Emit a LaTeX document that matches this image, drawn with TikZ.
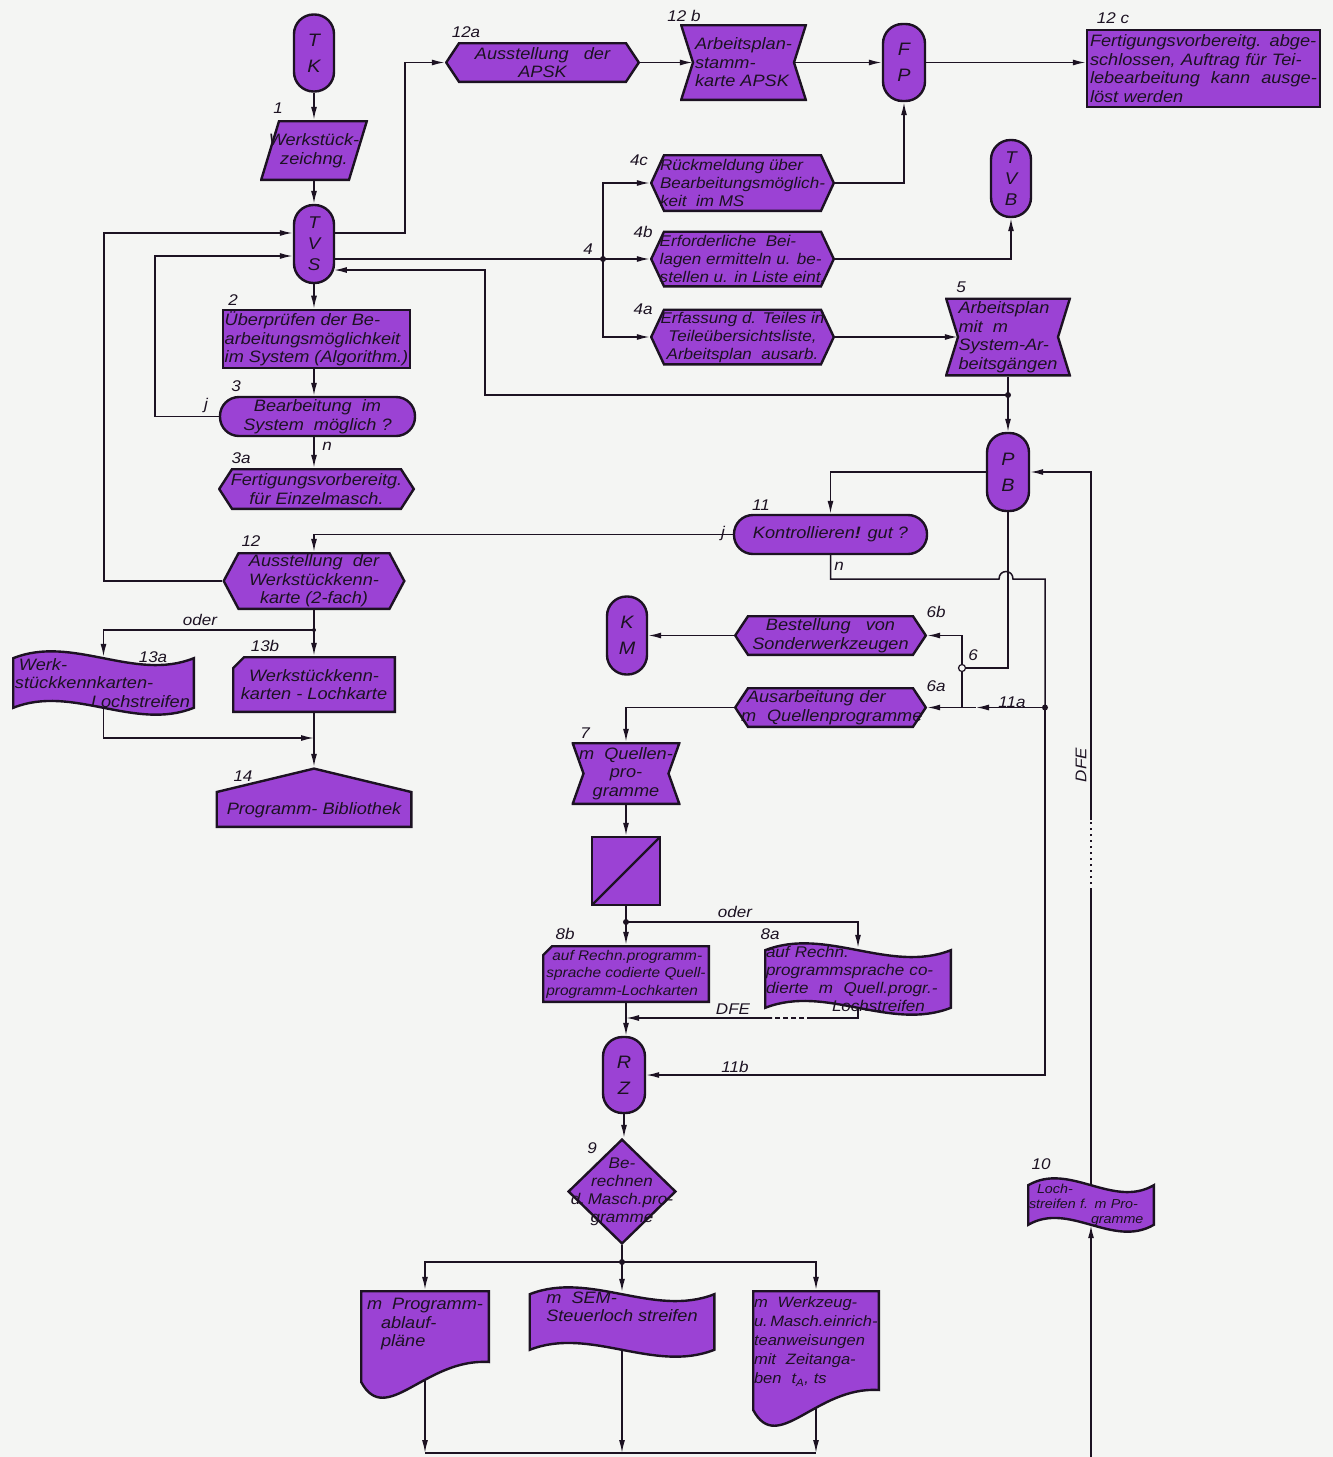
\documentclass[tikz,border=0pt]{standalone}
\usepackage{fontspec}
\setmainfont{Liberation Sans}[FakeStretch=1.1]
\usetikzlibrary{arrows.meta,calc}
\definecolor{purp}{RGB}{155,66,212}
\definecolor{ink}{RGB}{28,18,34}
\definecolor{paper}{RGB}{244,245,243}
\newcommand\ppbb{path picture bounding box}
\tikzset{
  fnt/.style={font=\fontsize{16.5}{18.5}\selectfont\itshape},
  fsm/.style={font=\fontsize{15.5}{18}\selectfont\itshape},
  lab/.style={font=\fontsize{15.5}{17}\selectfont\itshape, inner sep=0pt, text=ink},
  conn/.style={draw=ink, line width=1.5pt},
  arr/.style={conn, -{Latex[length=13pt,width=6pt]}},
  box/.style={fnt, rectangle, draw=ink, fill=purp, line width=2.4pt, inner sep=2pt, align=center, text=ink},
  term/.style={box, rounded corners=19.5pt, font=\fontsize{18}{26}\selectfont\itshape},
  term3/.style={term, font=\fontsize{17}{21}\selectfont\itshape},
  hterm/.style={box, rounded corners=19pt},
  shp/.style={fnt, rectangle, inner sep=2pt, align=center, text=ink},
  wh/.style 2 args={minimum width=#1pt, minimum height=#2pt},
  outl/.style={fill=purp, draw=ink, line width=2.4pt, line join=miter},
  hexa/.style={shp, path picture={\path[outl] ([shift={(1.2,0)}]\ppbb.west) -- ([shift={(#1,1.2)}]\ppbb.north west) -- ([shift={(-#1,1.2)}]\ppbb.north east) -- ([shift={(-1.2,0)}]\ppbb.east) -- ([shift={(-#1,-1.2)}]\ppbb.south east) -- ([shift={(#1,-1.2)}]\ppbb.south west) -- cycle;}},
  hexa/.default=14,
  hour/.style={shp, path picture={\path[outl] ([shift={(1.2,1.2)}]\ppbb.north west) -- ([shift={(-1.2,1.2)}]\ppbb.north east) -- ([shift={(-#1,0)}]\ppbb.east) -- ([shift={(-1.2,-1.2)}]\ppbb.south east) -- ([shift={(1.2,-1.2)}]\ppbb.south west) -- ([shift={(#1,0)}]\ppbb.west) -- cycle;}},
  hour/.default=13,
  card/.style={shp, path picture={\path[outl] ([shift={(#1,1.2)}]\ppbb.north west) -- ([shift={(-1.2,1.2)}]\ppbb.north east) -- ([shift={(-1.2,-1.2)}]\ppbb.south east) -- ([shift={(1.2,-1.2)}]\ppbb.south west) -- ([shift={(1.2,#1)}]\ppbb.north west) -- cycle;}},
  card/.default=12,
  para/.style={shp, path picture={\path[outl] ([shift={(19,1.2)}]\ppbb.north west) -- ([shift={(-1.2,1.2)}]\ppbb.north east) -- ([shift={(-19,-1.2)}]\ppbb.south east) -- ([shift={(1.2,-1.2)}]\ppbb.south west) -- cycle;}},
  house/.style={shp, path picture={\path[outl] ([shift={(0,1.6)}]\ppbb.north) -- ([shift={(-1.2,25)}]\ppbb.north east) -- ([shift={(-1.2,-1.2)}]\ppbb.south east) -- ([shift={(1.2,-1.2)}]\ppbb.south west) -- ([shift={(1.2,25)}]\ppbb.north west) -- cycle;}},
  diam/.style={shp, path picture={\path[outl] ([shift={(0,1.6)}]\ppbb.north) -- ([shift={(-1.6,0)}]\ppbb.east) -- ([shift={(0,-1.6)}]\ppbb.south) -- ([shift={(1.6,0)}]\ppbb.west) -- cycle;}},
  tape/.style={shp, path picture={\path[outl] ([shift={(1.2,8.2)}]\ppbb.north west) .. controls ($(\ppbb.north west)!0.33!(\ppbb.north east)+(0,-15.6)$) and ($(\ppbb.north west)!0.67!(\ppbb.north east)+(0,32)$) .. ([shift={(-1.2,8.2)}]\ppbb.north east) -- ([shift={(-1.2,-8.2)}]\ppbb.south east) .. controls ($(\ppbb.south west)!0.67!(\ppbb.south east)+(0,15.6)$) and ($(\ppbb.south west)!0.33!(\ppbb.south east)+(0,-32)$) .. ([shift={(1.2,-8.2)}]\ppbb.south west) -- cycle;}},
  doc/.style={shp, path picture={\path[outl] ([shift={(1.2,1.2)}]\ppbb.north west) -- ([shift={(-1.2,1.2)}]\ppbb.north east) -- ([shift={(-1.2,-38)}]\ppbb.south east) .. controls ($(\ppbb.south west)!0.5!(\ppbb.south east)+(0,-42)$) and ($(\ppbb.south west)!0.2!(\ppbb.south east)+(0,28)$) .. ([shift={(1.2,-18)}]\ppbb.south west) -- cycle;}},
  conv/.style={box, path picture={\draw[ink, line width=2.2pt] (\ppbb.south west) -- (\ppbb.north east);}},
}
\begin{document}
\begin{tikzpicture}[x=1pt,y=-1pt]
\fill[paper] (0,0) rectangle (1333,1457);
\useasboundingbox (0,0) rectangle (1333,1457);

% ---------- nodes ----------
\node[term, wh={40}{77}] (tk) at (314,53) {T\\K};
\node[para, wh={108}{61}] (n1) at (314,150.5) {Werkstück-\\zeichng.};
\node[term3, wh={40}{78}] (tvs) at (314,244) {T\\V\\S};
\node[box, wh={187}{58}, align=left] (n2) at (316.5,339) {Überprüfen der Be-\\arbeitungsmöglichkeit\\im System (Algorithm.)};
\node[hterm, wh={195}{39}] (n3) at (317.5,416.5) {Bearbeitung~~im\\System~~möglich ?};
\node[hexa, wh={197}{42}] (n3a) at (316.5,489) {Fertigungsvorbereitg.\\für Einzelmasch.};
\node[hexa=16, wh={183}{58}] (n12) at (314,581) {Ausstellung~~der\\Werkstückkenn-\\karte (2-fach)};
\node[tape, wh={183}{66}, text width=177pt, align=left] (n13a) at (103.5,683) {\hspace*{4pt}Werk-\\stückkennkarten-\\\hspace*{76pt}Lochstreifen};
\node[card, wh={164}{57}] (n13b) at (314,684.5) {Werkstückkenn-\\karten - Lochkarte};
\node[house, wh={197}{61}] (n14) at (314,797.5) {\strut\\[6pt]Programm- Bibliothek};

\node[hexa, wh={195}{41}] (n12a) at (542.5,62.5) {Ausstellung~~~der\\APSK};
\node[hour, wh={127}{77}, align=left] (n12b) at (743.5,62.5) {Arbeitsplan-\\stamm-\\karte APSK};
\node[term, wh={42}{77}] (fp) at (904,62.5) {F\\P};
\node[box, wh={233}{77}, text width=227pt, align=left] (n12c) at (1203.5,68.5) {Fertigungsvorbereitg. abge-\\schlossen, Auftrag für Tei-\\lebearbeitung~~kann~~ausge-\\löst werden};

\node[hexa, fsm, wh={185}{58}, align=left] (n4c) at (742.5,183) {Rückmeldung über\\Bearbeitungsmöglich-\\keit~~im MS};
\node[hexa, fsm, wh={185}{57}, align=left] (n4b) at (742.5,259) {Erforderliche~~Bei-\\lagen ermitteln u. be-\\stellen u. in Liste eint.};
\node[hexa, fsm, wh={185}{57}] (n4a) at (742.5,337) {Erfassung d. Teiles in\\Teileübersichtsliste,\\Arbeitsplan~~ausarb.};
\node[term3, wh={40}{77}] (tvb) at (1011,178.5) {T\\V\\B};
\node[hour, wh={126}{79}, align=left] (n5) at (1008,337) {Arbeitsplan\\mit~~m\\System-Ar-\\beitsgängen};
\node[term, wh={42}{78}] (pb) at (1008,472) {P\\B};

\node[hterm, wh={193}{39}] (n11) at (830.5,534.5) {Kontrollieren\textbf{!} gut ?};
\node[term, wh={40}{78}] (km) at (627,635.5) {K\\M};
\node[hexa, wh={193}{41}] (n6b) at (830.5,635.5) {Bestellung~~~von\\Sonderwerkzeugen};
\node[hexa, wh={193}{41}, text width=187pt, align=left] (n6a) at (830.5,707.5) {\hspace*{10pt}Ausarbeitung der\\\hspace*{4pt}m~~Quellenprogramme};
\node[hour=12, wh={109}{63}] (n7) at (626,773.5) {m~~Quellen-\\pro-\\gramme};
\node[conv, wh={68}{68}] (conv) at (626,871) {};
\node[card=10, font=\fontsize{14}{17.5}\selectfont\itshape, wh={168}{58}, align=left] (n8b) at (626,974) {\hspace*{6pt}auf Rechn.programm-\\sprache codierte Quell-\\programm-Lochkarten};
\node[tape, fsm, wh={188}{74}, text width=184pt, align=left] (n8a) at (858,979) {auf Rechn.\\programmsprache co-\\dierte~~m~~Quell.progr.-\\\hspace*{66pt}Lochstreifen};
\node[term, wh={42}{76}] (rz) at (624,1075) {R\\Z};
\node[diam, fsm, wh={110}{107}, text width=106pt] (n9) at (622,1191.5) {Be-\\rechnen\\d.\,Masch.pro-\\gramme};
\node[tape, font=\fontsize{13}{15}\selectfont\itshape, wh={128}{56}, text width=124pt, align=left] (n10) at (1091,1205) {\hspace*{8pt}Loch-\\streifen f. m Pro-\\\hspace*{62pt}gramme};

\node[doc, wh={130}{110}, align=left] (docL) at (425,1345) {m~~Programm-\\\hspace*{14pt}ablauf-\\\hspace*{14pt}pläne\\[26pt]\mbox{}};
\node[tape, wh={187}{72}, align=left] (tapeM) at (622,1322) {m~~SEM-\\Steuerloch streifen\\[12pt]\mbox{}};
\node[doc, font=\fontsize{15}{19}\selectfont\itshape, wh={128}{138}, text width=124pt, align=left] (docR) at (816,1359) {m~~Werkzeug-\\u.\,Masch.einrich-\\teanweisungen\\mit~~Zeitanga-\\ben~~t\textsubscript{A}, ts\\[18pt]\mbox{}};

% ---------- junctions ----------
\coordinate (j4) at (603,259);
\coordinate (j5) at (1008,395);
\coordinate (j6) at (962,668);
\coordinate (j6a) at (962,707.5);
\coordinate (j11a) at (1045,707.5);
\coordinate (jc) at (626,922);
\coordinate (j8) at (626,1018);
\coordinate (j9) at (622,1262);
\coordinate (j13) at (314,630);
\coordinate (j13b) at (314,738);
\coordinate (bL) at (425,1453);
\coordinate (bM) at (622,1453);
\coordinate (bR) at (816,1453);
\coordinate (b10) at (1091,1457);

% ---------- connectors ----------
\draw[arr] (tk) -- (n1);
\draw[arr] (n1) -- (tvs);
\draw[arr] (tvs.south) -- (tvs.south |- n2.north);
\draw[arr] (n2.south -| tvs.south) -- (tvs.south |- n3.north);
\draw[arr] (n3.south -| tvs.south) -- (tvs.south |- n3a.north);
\draw[arr] (n3.west) -- ++(-64,0) |- ($(tvs.west)+(0,12)$);
\draw[arr] (n12.west) -| (104,233) -- ($(tvs.west)+(0,-11)$);
\draw[arr] ($(tvs.east)+(0,-11)$) -| (405,62.5) -- (n12a.west);
\draw[conn] (tvs.east |- j4) -- (j4);
\draw[arr] (j4) -- (n4b.west);
\draw[arr] (j4) |- (n4c.west);
\draw[arr] (j4) |- (n4a.west);
\draw[arr] (n12a.east) -- ($(n12b.west)+(13,0)$);
\draw[arr] ($(n12b.east)+(-13,0)$) -- (fp.west);
\draw[arr] (fp.east) -- (fp.east -| n12c.west);
\draw[arr] (n4c.east) -| (fp.south);
\draw[arr] (n4b.east) -| (tvb.south);
\draw[arr] (n4a.east) -- ($(n5.west)+(13,0)$);
\draw[conn] (n5.south) -- (j5);
\draw[arr] (j5) -- (pb.north);
\draw[arr] (j5) -| (485,270) -- ($(tvs.east)+(-1.3,26)$);
\draw[arr] (pb.west) -| (n11.north);
\draw[arr] (n11.west) -| (n12.north);
\draw[conn] (n11.south) |- (999,579) .. controls (999,569) and (1013,569) .. (1013,579) -- (1045,579) -- (j11a);
\draw[arr] (j11a) -- (1045,1075) -- (rz.east);
\draw[conn] (pb.south) |- (j6);
\draw[arr] (j6) |- (n6b.east);
\draw[conn] (j6) -- (j6a);
\draw[arr] (j11a) -- (976,707.5);
\draw[conn] (976,707.5) -- (j6a);
\draw[arr] (j6a) -- (n6a.east);
\draw[arr] (n6b.west) -- (km.east);
\draw[arr] (n6a.west) -| (n7.north);
\draw[arr] (n7.south) -- (conv.north);
\draw[conn] (conv.south) -- (jc);
\draw[arr] (jc) -- (n8b.north);
\draw[arr] (jc) -| ($(n8a.north)+(0,6)$);
\draw[conn] ($(n8a.south)+(0,-8)$) |- (812,1018);
\draw[conn, dash pattern=on 5pt off 3pt] (812,1018) -- (772,1018);
\draw[arr] (772,1018) -- (j8);
\draw[arr] (n8b.south) -- (n8b.south |- rz.north);
\draw[arr] (rz.south) -- (rz.south |- n9.north);
\draw[conn] (n9.south) -- (j9);
\draw[arr] (j9) -| (docL.north);
\draw[arr] (j9) -- ($(tapeM.north)+(0,6)$);
\draw[arr] (j9) -| (docR.north);
\draw[arr] ($(docL.south)+(0,-20)$) -- (bL);
\draw[arr] ($(tapeM.south)+(0,-8)$) -- (bM);
\draw[arr] ($(docR.south)+(0,-20)$) -- (bR);
\draw[conn] (bL) -- (bR);
\draw[arr] (b10) -- ($(n10.south)+(0,-8)$);
\draw[conn] ($(n10.north)+(0,8)$) -- (1091,890);
\draw[conn, dash pattern=on 2pt off 4pt] (1091,890) -- (1091,820);
\draw[arr] (1091,820) |- (pb.east);
\draw[conn] (n12.south) -- (j13);
\draw[arr] (j13) -| ($(n13a.north)+(0,7)$);
\draw[arr] (j13) -- (n13b.north);
\draw[arr] ($(n13a.south)+(0,-8)$) |- (j13b);
\draw[conn] (n13b.south) -- (j13b);
\draw[arr] (j13b) -- (n14.north);

% ---------- dots ----------
\foreach \p in {j4,j5,j11a,jc,j9} \fill[ink] (\p) circle[radius=3];
\fill[ink] (j13) circle[radius=2];
\draw[ink, line width=1.2pt, fill=paper] (j6) circle[radius=3.5];

% ---------- labels ----------
\node[lab] at (278,108) {1};
\node[lab] at (233,300) {2};
\node[lab] at (236,386) {3};
\node[lab] at (206,405) {j};
\node[lab] at (327,446) {n};
\node[lab] at (241,458) {3a};
\node[lab] at (251,541) {12};
\node[lab] at (200,620) {oder};
\node[lab] at (153,657) {13a};
\node[lab] at (265,646) {13b};
\node[lab] at (243,776) {14};
\node[lab] at (466,32) {12a};
\node[lab] at (684,16) {12 b};
\node[lab] at (1113,18) {12 c};
\node[lab] at (639,160) {4c};
\node[lab] at (643,232) {4b};
\node[lab] at (643,309) {4a};
\node[lab] at (588,249) {4};
\node[lab] at (961,287) {5};
\node[lab] at (761,505) {11};
\node[lab] at (723,533) {j};
\node[lab] at (839,566) {n};
\node[lab] at (936,612) {6b};
\node[lab] at (973,655) {6};
\node[lab] at (936,686) {6a};
\node[lab] at (1012,702) {11a};
\node[lab] at (585,733) {7};
\node[lab] at (735,912) {oder};
\node[lab] at (565,934) {8b};
\node[lab] at (770,934) {8a};
\node[lab] at (733,1009) {DFE};
\node[lab] at (735,1067) {11b};
\node[lab] at (592,1148) {9};
\node[lab] at (1041,1164) {10};
\node[lab, rotate=90] at (1081,765) {DFE};
\end{tikzpicture}
\end{document}
